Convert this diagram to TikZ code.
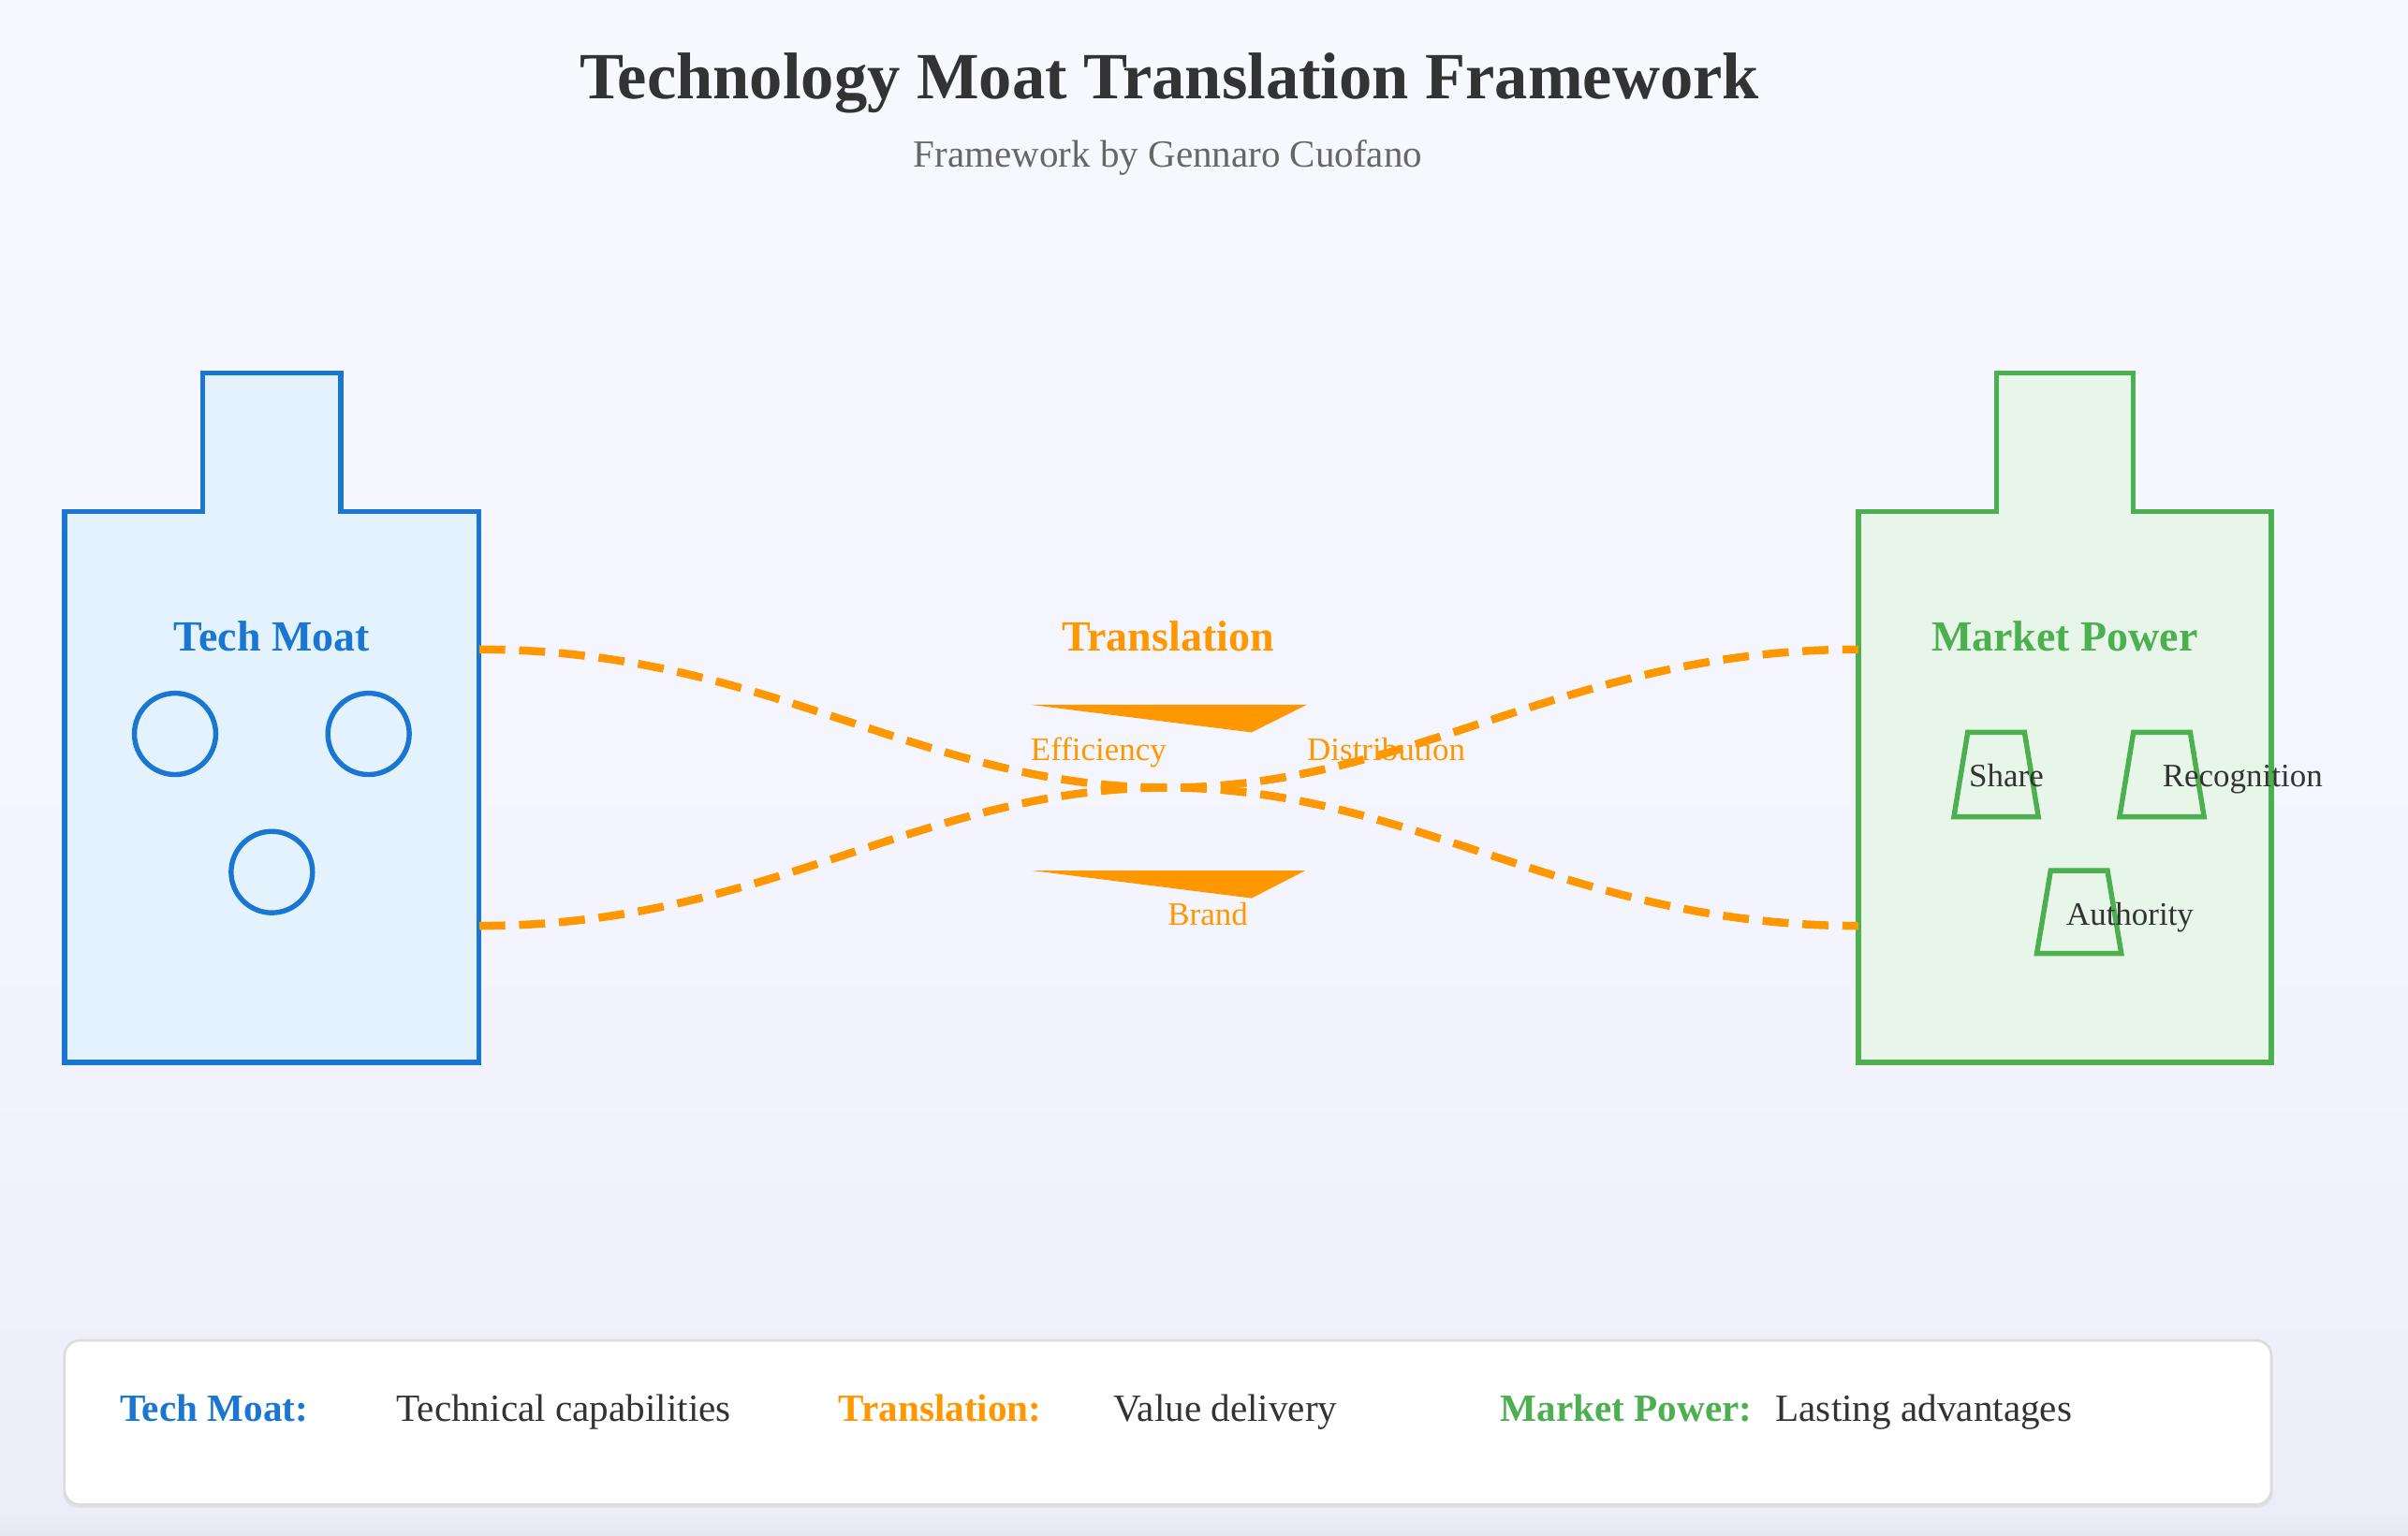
\documentclass[tikz,border=0pt]{standalone}
\usepackage{fontspec}
\setmainfont{Liberation Serif}
\definecolor{tmblue}{HTML}{1976D2}
\definecolor{tmfill}{HTML}{E3F2FD}
\definecolor{mpgreen}{HTML}{4CAF50}
\definecolor{mpfill}{HTML}{E8F5E9}
\definecolor{trorange}{HTML}{FF9800}
\definecolor{txtdark}{HTML}{333333}
\definecolor{txtgray}{HTML}{666666}
\definecolor{bgA}{HTML}{E5E7F3}
\definecolor{bgB}{HTML}{ECEDF9}
\definecolor{bgC}{HTML}{F2F3FD}
\definecolor{bgD}{HTML}{F8F9FE}
\definecolor{legborder}{HTML}{DCDCDC}
\pgfdeclareverticalshading{bgshade}{100bp}{color(0bp)=(bgA); color(25bp)=(bgA); color(25.8bp)=(bgB); color(40bp)=(bgC); color(75bp)=(bgD); color(100bp)=(bgD)}
\begin{document}
\begin{tikzpicture}[x=1pt,y=-1pt,
  txt/.style={inner sep=0pt, anchor=base},
  txtw/.style={inner sep=0pt, anchor=base west},
  txte/.style={inner sep=0pt, anchor=base east},
  headfont/.style={font=\fontsize{28}{32}\selectfont\bfseries},
  smallfont/.style={font=\fontsize{21.3}{24}\selectfont},
  legfont/.style={font=\fontsize{25.1}{28}\selectfont},
  legbold/.style={font=\fontsize{25.1}{28}\selectfont\bfseries},
  moatline/.style={line width=3.3pt, line join=miter},
  capring/.style={circle, draw=tmblue, line width=3.3pt, minimum size=53pt, inner sep=0pt},
  trapline/.style={draw=mpgreen, line width=3.3pt, line join=miter},
  flow/.style={draw=trorange, line width=5.2pt, dash pattern=on 17pt off 9pt}
]
\useasboundingbox (0,0) rectangle (1568,1000);
\shade[shading=bgshade] (0,0) rectangle (1568,1000);

% title
\node[txt, font=\fontsize{43}{48}\selectfont\bfseries, text=txtdark] (title) at (761.5,64.6) {Technology Moat Translation Framework};
\node[txt, font=\fontsize{25}{28}\selectfont, text=txtgray] (subtitle) at (760.5,108.7) {Framework by Gennaro Cuofano};

% Tech Moat castle
\draw[moatline, draw=tmblue, fill=tmfill] (42,333) -- (132,333) -- (132,243) -- (222,243) -- (222,333) -- (312,333) -- (312,692) -- (42,692) -- cycle;
\node[txt, headfont, text=tmblue] (tmlabel) at (177,424) {Tech Moat};
\node[capring] (ring1) at (114,478) {};
\node[capring] (ring2) at (240,478) {};
\node[capring] (ring3) at (177,568) {};
\coordinate (tmA) at (312,423);
\coordinate (tmB) at (312,603);

% Market Power castle
\draw[moatline, draw=mpgreen, fill=mpfill] (1210,333) -- (1300,333) -- (1300,243) -- (1389,243) -- (1389,333) -- (1479,333) -- (1479,692) -- (1210,692) -- cycle;
\node[txt, headfont, text=mpgreen] (mplabel) at (1344.5,424) {Market Power};
\draw[trapline] (1272.3,532) -- (1281.3,477) -- (1318.3,477) -- (1327.3,532) -- cycle;
\draw[trapline] (1380.2,532) -- (1389.2,477) -- (1426.2,477) -- (1435.2,532) -- cycle;
\draw[trapline] (1326.3,621) -- (1335.3,567) -- (1372.3,567) -- (1381.3,621) -- cycle;
\node[txtw, smallfont, text=txtdark] (share) at (1282,512.7) {Share};
\node[txtw, smallfont, text=txtdark] (recog) at (1408,512.7) {Recognition};
\node[txtw, smallfont, text=txtdark] (auth) at (1345.3,602.5) {Authority};
\coordinate (mpA) at (1210,423);
\coordinate (mpB) at (1210,603);

% Translation
\coordinate (mid) at (760,513);
\draw[flow] (tmA) .. controls +(188,0) and +(-160,0) .. (mid) .. controls +(160,0) and +(-190,0) .. (mpB);
\draw[flow] (tmB) .. controls +(188,0) and +(-160,0) .. (mid) .. controls +(160,0) and +(-190,0) .. (mpA);
\node[txt, headfont, text=trorange] (trlabel) at (760.5,424) {Translation};
\fill[trorange] (671,459) -- (851,459) -- (815,477) -- cycle;
\fill[trorange] (672,567) -- (850,567) -- (815,585) -- cycle;
\node[txtw, smallfont, text=trorange] (eff) at (671,495.5) {Efficiency};
\node[txtw, smallfont, text=trorange] (dist) at (851,495.5) {Distribution};
\node[txte, smallfont, text=trorange] (brand) at (812.7,602.5) {Brand};

% Legend
\fill[black, opacity=0.05, rounded corners=10pt] (41,875) rectangle (1480,982);
\draw[draw=legborder, line width=1.6pt, fill=white, rounded corners=10pt] (42,873) rectangle (1479,980);
\node[txtw, legbold, text=tmblue] (lg1) at (78,926) {Tech Moat:};
\node[txtw, legfont, text=txtdark] (lg1d) at (258,926) {Technical capabilities};
\node[txtw, legbold, text=trorange] (lg2) at (546,926) {Translation:};
\node[txtw, legfont, text=txtdark] (lg2d) at (725,926) {Value delivery};
\node[txtw, legbold, text=mpgreen] (lg3) at (977,926) {Market Power:};
\node[txtw, legfont, text=txtdark] (lg3d) at (1156,926) {Lasting advantages};
\end{tikzpicture}
\end{document}
